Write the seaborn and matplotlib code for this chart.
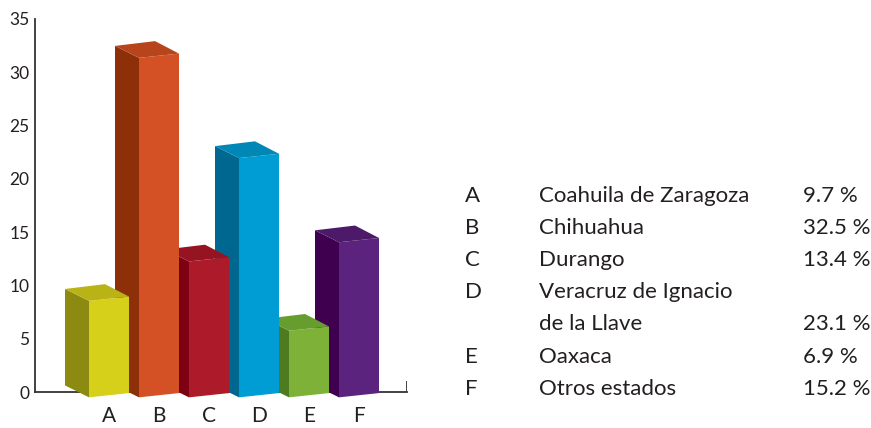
import numpy as np
import pandas as pd
import matplotlib
matplotlib.use("Agg")
import matplotlib.pyplot as plt
import seaborn as sns
from matplotlib.patches import Polygon

# data
letters = ["A", "B", "C", "D", "E", "F"]
states = ["Coahuila de Zaragoza", "Chihuahua", "Durango",
          "Veracruz de Ignacio\nde la Llave", "Oaxaca", "Otros estados"]
values = [9.7, 32.5, 13.4, 23.1, 6.9, 15.2]
pct_labels = ["9.7 %", "32.5 %", "13.4 %", "23.1 %", "6.9 %", "15.2 %"]

front_cols = ["#D7D01A", "#D45125", "#AD1A29", "#009DD5", "#7DB137", "#5B237D"]
side_cols = ["#8C8A10", "#8D300A", "#7D0013", "#006890", "#4E7A20", "#3F0050"]
top_cols = ["#B9B315", "#B8441C", "#961321", "#0087B5", "#679D2E", "#4C1A68"]

sns.set_style("white")
plt.rcParams["font.family"] = ["Lato", "DejaVu Sans"]
txt = "#231F20"

df = pd.DataFrame({"letter": letters, "value": values})

fig = plt.figure(figsize=(8.71, 4.28), dpi=100)
ax = fig.add_axes([35 / 871, 4 / 428, 372 / 871, 0.9713])

sns.barplot(data=df, x="letter", y="value", hue="letter", palette=front_cols,
            legend=False, width=0.8, ax=ax, saturation=1, linewidth=0)

# pseudo 3d: front face shifted down and slightly tilted, side + top faces offset back-left
dx, dy = -0.48, 1.12
base = -0.3
tilt = 0.2
for i, p in enumerate(ax.patches):
    v = p.get_height()
    x0 = p.get_x()
    x1 = x0 + p.get_width()
    t = base + v - 0.65
    z = 20 - 2 * i
    p.set_visible(False)
    fl_b, fr_b = base - tilt, base + tilt
    fl_t, fr_t = t - tilt, t + tilt
    front = Polygon([(x0, fl_b), (x1, fr_b), (x1, fr_t), (x0, fl_t)],
                    closed=True, facecolor=front_cols[i], edgecolor="none", zorder=z)
    side = Polygon([(x0, fl_b), (x0, fl_t), (x0 + dx, fl_t + dy), (x0 + dx, fl_b + dy)],
                   closed=True, facecolor=side_cols[i], edgecolor="none", zorder=z)
    top = Polygon([(x0, fl_t), (x1, fr_t), (x1 + dx, fr_t + dy + 0.05), (x0 + dx, fl_t + dy)],
                  closed=True, facecolor=top_cols[i], edgecolor="none", zorder=z)
    for poly in (front, side, top):
        ax.add_patch(poly)

ax.set_xlim(-1.48, 5.96)
ax.set_ylim(-3, 36)
ax.set_xlabel("")
ax.set_ylabel("")

for s in ["top", "right"]:
    ax.spines[s].set_visible(False)
ax.spines["left"].set_bounds(0, 35)
ax.spines["bottom"].set_position(("data", 0))
ax.spines["bottom"].set_bounds(-1.48, 5.96)
for s in ["left", "bottom"]:
    ax.spines[s].set_color("#333333")
    ax.spines[s].set_linewidth(1.3)
    ax.spines[s].set_zorder(1)
# little end tick at the right of the x axis
ax.plot([5.95, 5.95], [0, 1.0], color="#333333", lw=1.3, zorder=1,
        solid_capstyle="butt")

ax.set_yticks(np.arange(0, 36, 5))
ax.tick_params(axis="y", direction="in", length=7.5, width=1.2, color="#333333",
               labelsize=12.5, labelcolor=txt, pad=4)
ax.tick_params(axis="x", length=0, labelsize=15, labelcolor=txt, pad=10)
ax.spines["left"].set_position(("data", -1.48))

# table on the right
fs = 16
baselines = [202, 234, 266, 298, 363, 395]
for i in range(6):
    yb = 1 - baselines[i] / 428
    fig.text(465 / 871, yb, letters[i], fontsize=fs, color=txt, va="baseline")
    name = states[i]
    if "\n" in name:
        l1, l2 = name.split("\n")
        fig.text(539 / 871, yb, l1, fontsize=fs, color=txt, va="baseline")
        yb2 = 1 - 330 / 428
        fig.text(539 / 871, yb2, l2, fontsize=fs, color=txt, va="baseline")
        fig.text(803 / 871, yb2, pct_labels[i], fontsize=fs, color=txt, va="baseline")
    else:
        fig.text(539 / 871, yb, name, fontsize=fs, color=txt, va="baseline")
        fig.text(803 / 871, yb, pct_labels[i], fontsize=fs, color=txt, va="baseline")

fig.savefig("out.png", dpi=100)
